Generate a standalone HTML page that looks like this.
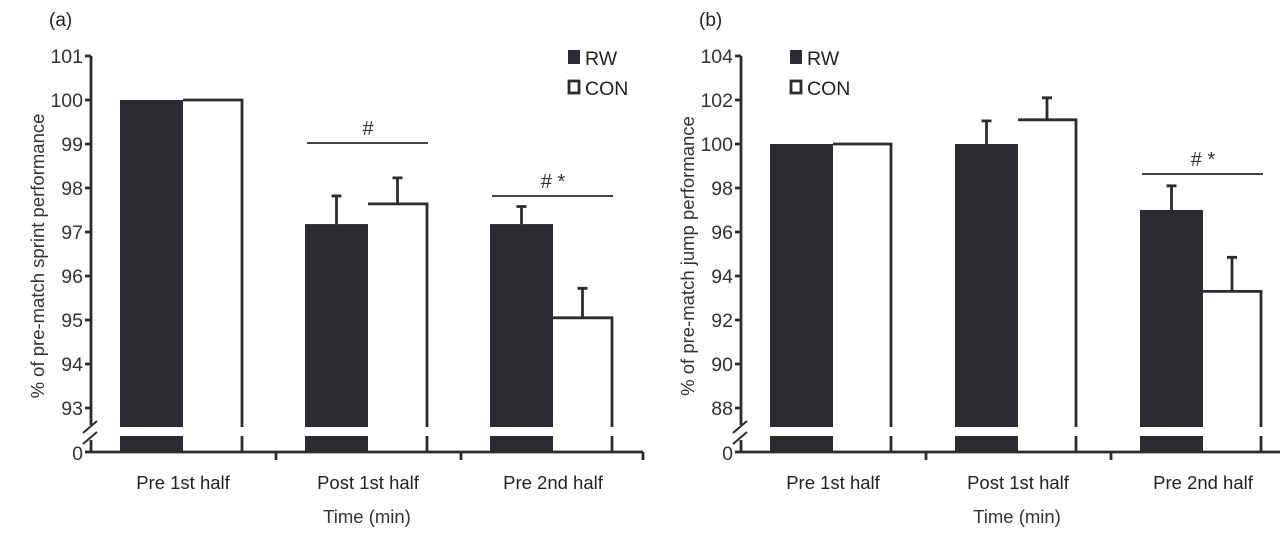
<!DOCTYPE html>
<html><head><meta charset="utf-8"><style>
body{margin:0;background:#fff;}
svg{display:block;font-family:"Liberation Sans",Arial,sans-serif;}
</style></head><body>
<svg id="c" width="1280" height="544"></svg>
<script>
const categories=["Pre 1st half","Post 1st half","Pre 2nd half"];
const rwA=[100,97.18,97.18];
const conA=[100,97.64,95.05];
const rwErrA=[0,0.64,0.4];
const conErrA=[0,0.59,0.67];
const ticksA=[93,94,95,96,97,98,99,100,101];
const rwB=[100,100,97];
const conB=[100,101.1,93.3];
const rwErrB=[0,1.05,1.1];
const conErrB=[0,1.0,1.55];
const ticksB=[88,90,92,94,96,98,100,102,104];
const NS="http://www.w3.org/2000/svg";
const svg=document.getElementById('c');
function el(t,a,p){const e=document.createElementNS(NS,t);for(const k in a)e.setAttribute(k,a[k]);(p||svg).appendChild(e);return e;}
function txt(s,a,p){const e=el('text',a,p);e.textContent=s;return e;}
function panel(o){
  const g=el('g',{});
  
  
  const x0=o.x0, yTop=56, yBot=408, lo=o.ticks[0], hi=o.ticks[o.ticks.length-1];
  const y=v=>yBot-(v-lo)/(hi-lo)*(yBot-yTop);
  const axisY=452, breakTop=427, breakBot=436;
  const grp=185, bw=63;
  const col="#2a2c32";
  const pl=txt(o.label,{x:x0-42,y:26,'font-size':19,fill:'#222'},g);
  
  categories.forEach((c,i)=>{
    const gx=x0+29+i*grp;
    const rx=gx, cx=gx+bw, cw=o.cw;
    const r1=el('rect',{x:rx,y:y(o.rw[i]),width:bw,height:breakTop-y(o.rw[i]),fill:col},g);
    
    const r2=el('rect',{x:rx,y:breakBot,width:bw,height:axisY-breakBot,fill:col},g);
    
    const yc=y(o.con[i]);
    const p=el('path',{d:`M${cx} ${yc}H${cx+cw}V${breakTop}M${cx+cw} ${breakBot}V${axisY}`,stroke:col,'stroke-width':2.8,fill:'none'},g);
    
    if(o.rwE[i]>0){const e=el('path',{d:`M${rx+bw/2} ${y(o.rw[i])}V${y(o.rw[i]+o.rwE[i])}M${rx+bw/2-5} ${y(o.rw[i]+o.rwE[i])}H${rx+bw/2+5}`,stroke:col,'stroke-width':2.8,fill:'none'},g);
      }
    if(o.conE[i]>0){const e=el('path',{d:`M${cx+cw/2} ${yc}V${y(o.con[i]+o.conE[i])}M${cx+cw/2-5} ${y(o.con[i]+o.conE[i])}H${cx+cw/2+5}`,stroke:col,'stroke-width':2.8,fill:'none'},g);
      }
    const cl=txt(c,{x:gx+bw,y:489,'font-size':18.5,'text-anchor':'middle',fill:'#222'},g);
    
  });
  el('path',{d:`M${x0} ${yTop}V${breakTop-2}M${x0} ${breakBot+4}V${axisY}`,stroke:col,'stroke-width':2.8,fill:'none'},g);
  el('path',{d:`M${x0-8} ${breakTop+6}L${x0+6} ${breakTop-6}M${x0-8} ${breakBot+8}L${x0+6} ${breakBot-4}`,stroke:col,'stroke-width':2,fill:'none'},g);
  o.ticks.forEach(t=>{
    el('line',{x1:x0-6,x2:x0,y1:y(t),y2:y(t),stroke:col,'stroke-width':2.8},g);
    const tl=txt(String(t),{x:x0-8,y:y(t)+7,'font-size':19.5,'text-anchor':'end',fill:'#333'},g);
    
  });
  el('line',{x1:x0-6,x2:x0,y1:axisY,y2:axisY,stroke:col,'stroke-width':2.8},g);
  txt('0',{x:x0-8,y:axisY+8,'font-size':19.5,'text-anchor':'end',fill:'#333'},g);
  el('line',{x1:x0,x2:o.axisEnd,y1:axisY,y2:axisY,stroke:col,'stroke-width':2.8},g);
  [1,2].forEach(k=>el('line',{x1:x0+k*grp,x2:x0+k*grp,y1:axisY,y2:axisY+8,stroke:col,'stroke-width':2.8},g));
  if(o.endTick) el('line',{x1:o.axisEnd,x2:o.axisEnd,y1:axisY,y2:axisY+8,stroke:col,'stroke-width':2.8},g);
  const yt=txt(o.ytitle,{x:0,y:0,'font-size':18.5,'text-anchor':'middle',fill:'#333',transform:`translate(${x0-47},${(yTop+axisY)/2+2}) rotate(-90)`},g);
  
  const xt=txt('Time (min)',{x:x0+276,y:523,'font-size':18.5,'text-anchor':'middle',fill:'#333'},g);
  
  const lx=o.legX;
  el('rect',{x:lx,y:50,width:12,height:14,fill:col},g);
  txt('RW',{x:lx+17,y:65,'font-size':19.5,fill:'#222'},g);
  el('rect',{x:lx+1,y:81,width:10,height:12,fill:'#fff',stroke:col,'stroke-width':2.8},g);
  txt('CON',{x:lx+17,y:95,'font-size':19.5,fill:'#222'},g);
  o.sig.forEach(s=>{
    const gx=x0+29+s.i*grp;
    el('line',{x1:gx+2,x2:gx+123,y1:s.y,y2:s.y,stroke:col,'stroke-width':1.8},g);
    txt(s.t,{x:gx+63,y:s.y-8,'font-size':20,'text-anchor':'middle',fill:'#333','xml:space':'preserve'},g);
  });
}
panel({name:'panel-a-sprint',x0:91,label:'(a)',ticks:ticksA,rw:rwA,con:conA,rwE:rwErrA,conE:conErrA,cw:59,legX:568,endTick:true,axisEnd:643,
  ytitle:'% of pre-match sprint performance',sig:[{i:1,y:143,t:'#'},{i:2,y:196,t:'#   *'}]});
panel({name:'panel-b-jump',x0:741,label:'(b)',ticks:ticksB,rw:rwB,con:conB,rwE:rwErrB,conE:conErrB,cw:58,legX:790,endTick:false,axisEnd:1280,
  ytitle:'% of pre-match jump performance',sig:[{i:2,y:174,t:'#   *'}]});
</script>
</body></html>
